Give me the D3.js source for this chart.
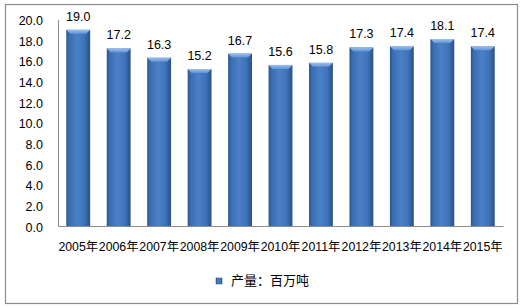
<!DOCTYPE html>
<html><head><meta charset="utf-8">
<script src="https://cdn.jsdelivr.net/npm/d3@7"></script>
<style>html,body{margin:0;padding:0;background:#fff;}svg{display:block;}</style>
</head><body>
<svg id="c" width="522" height="308"></svg>
<script>
const categories = ["2005年","2006年","2007年","2008年","2009年","2010年","2011年","2012年","2013年","2014年","2015年"];
const values = [19.0,17.2,16.3,15.2,16.7,15.6,15.8,17.3,17.4,18.1,17.4];
const yTicks = [0,2,4,6,8,10,12,14,16,18,20];
const seriesName = "产量：百万吨";

const svg = d3.select("#c");
const font = "'Liberation Sans','Noto Sans CJK SC',sans-serif";
const defs = svg.append("defs");
const g1 = defs.append("linearGradient").attr("id","bar").attr("x1","0").attr("x2","1").attr("y1","0").attr("y2","0");
[[0,"#2b5590"],[0.12,"#3a6db0"],[0.45,"#4a80c6"],[0.75,"#3f74ba"],[1,"#2a5089"]].forEach(([o,c])=>g1.append("stop").attr("offset",o).attr("stop-color",c));
const g2 = defs.append("linearGradient").attr("id","cap").attr("x1","0").attr("x2","0").attr("y1","0").attr("y2","1");
[[0,"#9cc0ec"],[1,"#5f93d6"]].forEach(([o,c])=>g2.append("stop").attr("offset",o).attr("stop-color",c));

svg.append("rect").attr("x",5.5).attr("y",4.5).attr("width",512).attr("height",299)
  .attr("fill","#fff").attr("stroke","#8c8c8c").attr("stroke-width",1.2);

const x = d3.scaleBand().domain(categories).range([58,503]).paddingInner(0.41).paddingOuter(0.205);
const y = d3.scaleLinear().domain([0,20]).range([226,19.5]);

const yAxis = svg.append("g").attr("transform","translate(58,0)")
  .call(d3.axisLeft(y).tickValues(yTicks).tickSize(0).tickPadding(15).tickFormat(d3.format(".1f")));
yAxis.select(".domain").attr("stroke","#8c8c8c");
yAxis.selectAll("text").attr("font-family",font).attr("font-size",12.5).attr("fill","#000").attr("dy","0.4em");

const xAxis = svg.append("g").attr("transform","translate(0,226)")
  .call(d3.axisBottom(x).tickSize(0).tickPadding(16));
xAxis.select(".domain").attr("stroke","#8c8c8c");
xAxis.selectAll("text").attr("font-family",font).attr("font-size",12.3).attr("fill","#000");

const bars = svg.append("g").selectAll("g").data(values).join("g");
bars.append("rect")
  .attr("x",(d,i)=>x(categories[i])).attr("y",d=>y(d))
  .attr("width",x.bandwidth()).attr("height",d=>y(0)-y(d)).attr("fill","url(#bar)");
bars.append("path")
  .attr("d",(d,i)=>{const x0=x(categories[i]),w=x.bandwidth(),t=y(d);return `M${x0},${t}H${x0+w}L${x0+w-4},${t+4}H${x0+4}Z`;})
  .attr("fill","url(#cap)");
bars.append("text")
  .attr("x",(d,i)=>x(categories[i])+x.bandwidth()/2).attr("y",d=>y(d)-9)
  .attr("text-anchor","middle").attr("font-family",font).attr("font-size",12.5).attr("fill","#000")
  .text(d=>d.toFixed(1));

const lg = svg.append("g").attr("transform","translate(216,278)");
lg.append("rect").attr("width",6).attr("height",6).attr("fill","url(#bar)").attr("stroke","#2b5590").attr("stroke-width",0.5);
lg.append("text").attr("x",15).attr("y",7).attr("font-family","'Noto Sans CJK SC',sans-serif").attr("font-size",13).attr("fill","#000").text(seriesName);
</script>
</body></html>
